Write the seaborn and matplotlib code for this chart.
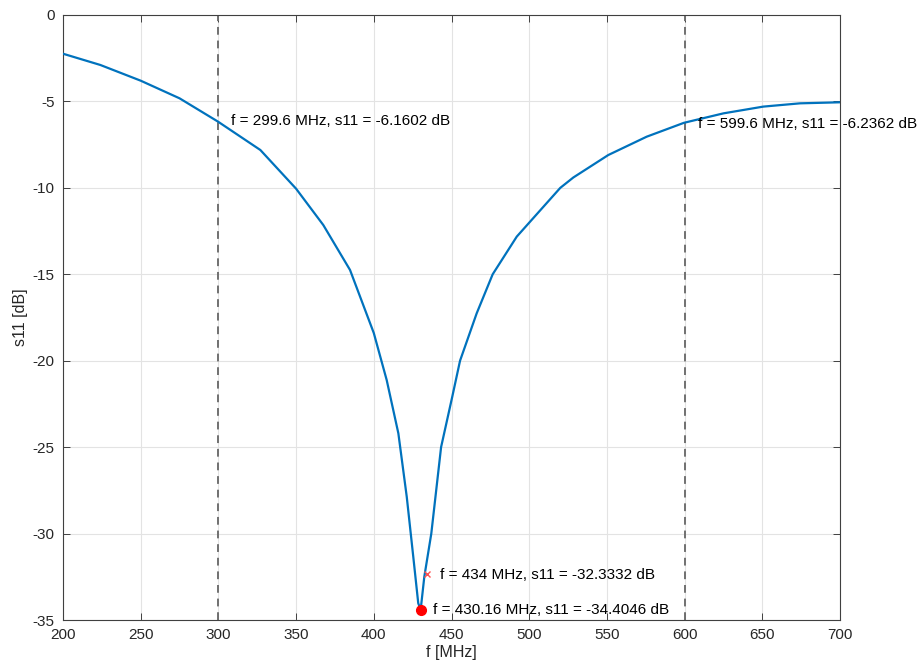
import numpy as np
import pandas as pd
import matplotlib
matplotlib.use("Agg")
import matplotlib.pyplot as plt
import seaborn as sns

# Data
freq_mhz = [200, 224, 250, 275, 299.6, 327, 350, 367.5, 384.7, 400, 408.3,
            415.8, 421.2, 425.4, 428.6, 430.16, 432.5, 437.0, 443.3, 450.5,
            455.5, 466.2, 476.5, 492, 520, 528.4, 550.9, 575.6, 599.6, 625,
            650.6, 674.3, 700]
s11_db = [-2.24, -2.89, -3.80, -4.82, -6.1602, -7.81, -10.05, -12.15, -14.75,
          -18.4, -21.12, -24.2, -27.87, -31.34, -34.03, -34.4046, -32.5, -30.0,
          -25.0, -22.08, -20.0, -17.26, -15.0, -12.82, -10.0, -9.4, -8.10,
          -7.04, -6.2362, -5.69, -5.30, -5.11, -5.05]

vline_f = [300, 600]
marker_min = (430.16, -34.4046)
marker_434 = (434, -32.3332)
annotations = [
    (308, -6.16, "f = 299.6 MHz, s11 = -6.1602 dB"),
    (608.5, -6.3, "f = 599.6 MHz, s11 = -6.2362 dB"),
    (442.5, -32.4, "f = 434 MHz, s11 = -32.3332 dB"),
    (438, -34.45, "f = 430.16 MHz, s11 = -34.4046 dB"),
]
xticks = [200, 250, 300, 350, 400, 450, 500, 550, 600, 650, 700]
yticks = [0, -5, -10, -15, -20, -25, -30, -35]

sns.set_theme(style="white")
plt.rcParams['font.family'] = ['Liberation Sans', 'DejaVu Sans']

df = pd.DataFrame({"f": freq_mhz, "s11": s11_db})

fig = plt.figure(figsize=(9.22, 6.71), dpi=100)
ax = fig.add_axes([63/922, 51/671, (840-63)/922, (620-15)/671])

sns.lineplot(data=df, x="f", y="s11", ax=ax, color="#0072BD", linewidth=1.6,
             zorder=3)

for v in vline_f:
    ax.axvline(v, color="#707070", linestyle=(0, (4, 3)), linewidth=1.4, zorder=2)

ax.plot([marker_min[0]], [marker_min[1]], 'o', color="red", markersize=7, zorder=4)
ax.plot([marker_434[0]], [marker_434[1]], 'x', color="#ff5050", markersize=5,
        markeredgewidth=1, zorder=4)

for x, y, t in annotations:
    ax.text(x, y, t, fontsize=11, color="black", va="center", ha="left",
            zorder=5, clip_on=False)

ax.set_xlim(200, 700)
ax.set_ylim(-35, 0)
ax.set_xticks(xticks)
ax.set_yticks(yticks)
ax.set_xticklabels([str(v) for v in xticks])
ax.set_yticklabels([str(v) for v in yticks])
ax.grid(True, color="#e3e3e3", linewidth=0.8, zorder=0)
ax.set_axisbelow(True)

for s in ax.spines.values():
    s.set_color("#404040")
    s.set_linewidth(0.8)
ax.tick_params(axis="both", direction="in", length=5, width=0.7,
               colors="#404040", labelcolor="#262626", labelsize=11,
               top=True, right=True, bottom=True, left=True, pad=6)

ax.set_xlabel("f [MHz]", fontsize=11.5, color="#262626", labelpad=2)
ax.set_ylabel("s11 [dB]", fontsize=11.5, color="#262626", labelpad=3)

fig.savefig("out.png", dpi=100, facecolor="white")
